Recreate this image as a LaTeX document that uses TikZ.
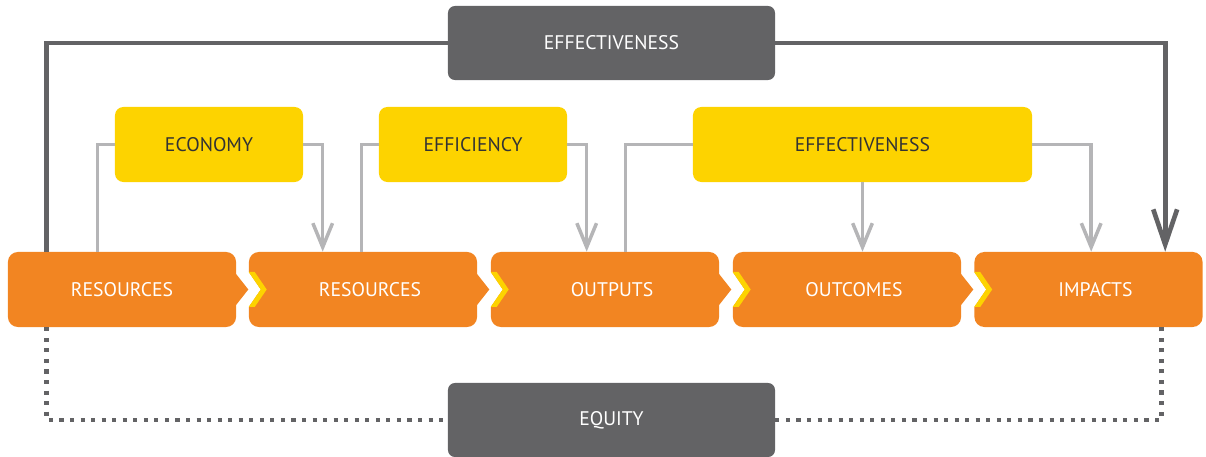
\documentclass[tikz,border=0pt]{standalone}
\usepackage{fontspec}
\setmainfont{PT Sans}
\usetikzlibrary{arrows.meta,calc}
\definecolor{boxorange}{HTML}{F28522}
\definecolor{boxyellow}{HTML}{FDD300}
\definecolor{boxgray}{HTML}{636365}
\definecolor{linegray}{HTML}{B5B5B7}
\definecolor{txtdark}{HTML}{333333}

\begin{document}
\begin{tikzpicture}[x=0.025cm,y=-0.025cm,
  lbl/.style={font=\fontsize{14}{16}\selectfont},
  stage/.style={lbl,rectangle,rounded corners=7pt,fill=boxorange,text=white,minimum width=5.7cm,minimum height=1.875cm},
  notched/.style={stage,execute at begin node=\hspace*{0.35cm}},
  crit/.style={lbl,rectangle,rounded corners=6pt,fill=boxyellow,text=txtdark,minimum height=1.875cm},
  dim/.style={lbl,rectangle,rounded corners=5pt,fill=boxgray,text=white,minimum width=8.175cm,minimum height=1.85cm},
  gline/.style={draw=linegray,line width=2.5pt},
  garrow/.style={gline,-{Straight Barb[length=17pt,width=14pt]}},
  dline/.style={draw=boxgray,line width=3.3pt},
  darrow/.style={dline,-{Straight Barb[length=25pt,width=17pt]}},
  dotline/.style={draw=boxgray,line width=3.4pt,dash pattern=on 2.9pt off 4.6pt}]
\useasboundingbox (0,0) rectangle (1206,457);
% boxes
\node[dim] (efftop) at (611.5,43) {EFFECTIVENESS};
\node[crit,minimum width=4.7cm] (eco) at (209,144.5) {ECONOMY};
\node[crit,minimum width=4.7cm] (effi) at (473,144.5) {EFFICIENCY};
\node[crit,minimum width=8.475cm] (effe) at (862.5,144.5) {EFFECTIVENESS};
\node[stage] (r1) at (122,289.5) {RESOURCES};
\node[notched] (r2) at (363,289.5) {RESOURCES};
\node[notched] (r3) at (605,289.5) {OUTPUTS};
\node[notched] (r4) at (847,289.5) {OUTCOMES};
\node[notched] (r5) at (1088.5,289.5) {IMPACTS};
\node[dim] (equ) at (611.5,420) {EQUITY};
% chevrons between stages
\foreach \a/\b in {r1/r2,r2/r3,r3/r4,r4/r5}{
  \begin{scope}[shift={(\b.west)}]
    \fill[white] (-1,-17.5) -- (0,-17.5) -- (12,0) -- (0,17.5) -- (-1,17.5) -- cycle;
    \fill[boxyellow] (0,-17.5) -- (6,-17.5) -- (18,0) -- (6,17.5) -- (0,17.5) -- (12,0) -- cycle;
  \end{scope}
  \begin{scope}[shift={(\a.east)}]
    \fill[boxorange] (-1,-16.5) -- (12,0) -- (-1,16.5) -- cycle;
  \end{scope}
}
% connectors
\draw[gline] ($(r1.north west)+(90,0)$) |- (eco.west);
\draw[garrow] (eco.east) -| ($(r2.north west)+(74,0)$);
\draw[gline] ($(r2.north west)+(113,0)$) |- (effi.west);
\draw[garrow] (effi.east) -| ($(r3.north west)+(96,0)$);
\draw[gline] ($(r3.north west)+(135,0)$) |- (effe.west);
\draw[garrow] (effe.south) -- (effe.south |- r4.north);
\draw[garrow] (effe.east) -| ($(r5.north west)+(117,0)$);
\draw[dline] ($(r1.north west)+(39,0)$) |- (efftop.west);
\draw[darrow] (efftop.east) -| ($(r5.north west)+(191,0)$);
\draw[dotline] ($(r1.south west)+(39,0)$) |- (equ.west);
\draw[dotline] (equ.east) -| ($(r5.south west)+(187,0)$);
\end{tikzpicture}
\end{document}
